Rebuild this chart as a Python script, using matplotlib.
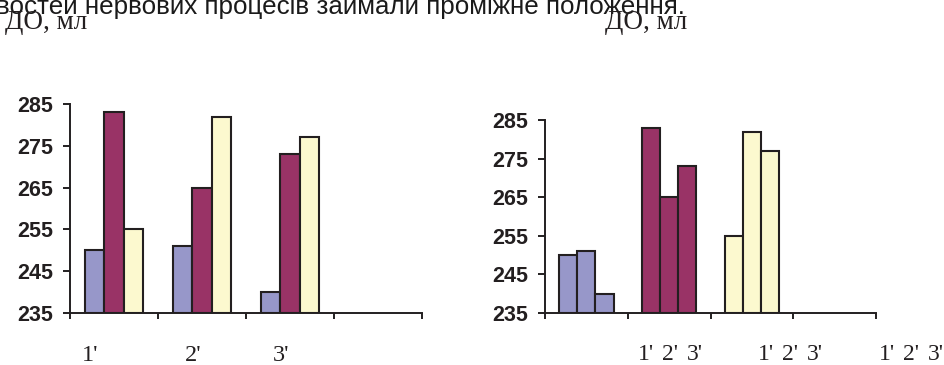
import numpy as np
import matplotlib.pyplot as plt

W, H = 944, 365

groups = ["1'", "2'", "3'"]
# значення ДО, мл для трьох серій (кольорів) у кожній групі 1', 2', 3'
blue_vals = [250, 251, 240]
purple_vals = [283, 265, 273]
yellow_vals = [255, 282, 277]

colors = ["#9797C9", "#993366", "#FCF9CF"]
edge = "#231F20"
y_ticks = [235, 245, 255, 265, 275, 285]
top_line = "востей нервових процесів займали проміжне положення."
y_label = "ДО, мл"

serif = ["Liberation Serif", "DejaVu Serif"]
sans = ["Liberation Sans", "DejaVu Sans"]


def px(x, y):
    return x / W, 1 - y / H


def style_axes(ax):
    ax.set_ylim(235, 285)
    ax.set_xlim(-0.5, 3.5)
    ax.set_yticks(y_ticks)
    ax.set_xticks(np.arange(-0.5, 4, 1))
    ax.set_xticklabels([])
    for s in ["top", "right"]:
        ax.spines[s].set_visible(False)
    for s in ["left", "bottom"]:
        ax.spines[s].set_linewidth(1.4)
        ax.spines[s].set_color(edge)
    ax.tick_params(axis="y", length=5, width=1.4, color=edge, pad=7)
    ax.tick_params(axis="x", length=4.5, width=1.4, color=edge, direction="out")
    for lab in ax.get_yticklabels():
        lab.set_fontfamily(sans)
        lab.set_fontweight("bold")
        lab.set_fontsize(15.5)
        lab.set_color(edge)
    ax.set_facecolor("none")


fig = plt.figure(figsize=(W / 100, H / 100), dpi=100)

# ліва діаграма: групи 1', 2', 3', у кожній три кольори
ax1 = fig.add_axes([70 / W, 1 - 313 / H, 352 / W, 209 / H])
bw = 0.223
x = np.arange(len(groups))
series = [blue_vals, purple_vals, yellow_vals]
for k, vals in enumerate(series):
    ax1.bar(x + (k - 1) * bw, np.array(vals) - 235, width=bw, bottom=235,
            color=colors[k], edgecolor=edge, linewidth=1.5)
style_axes(ax1)

# права діаграма: групи за кольором, у кожній 1', 2', 3'
ax2 = fig.add_axes([545 / W, 1 - 313 / H, 331 / W, 193 / H])
bw2 = 0.22
for k, vals in enumerate(series):
    for j, v in enumerate(vals):
        ax2.bar(k + (j - 1) * bw2, v - 235, width=bw2, bottom=235,
                color=colors[k], edgecolor=edge, linewidth=1.5)
style_axes(ax2)

# текст
fig.text(*px(685, 14), top_line, ha="right", va="baseline",
         fontsize=18.7, family=sans, color="#1a1a1a")
fig.text(*px(5, 29), y_label, ha="left", va="baseline",
         fontsize=19.5, family=serif, color="#231F20")
fig.text(*px(605, 29), y_label, ha="left", va="baseline",
         fontsize=19.5, family=serif, color="#231F20")

for g, xp in zip(groups, [82, 185, 273]):
    fig.text(*px(xp, 361), g, ha="left", va="baseline",
             fontsize=17.5, family=serif, color="#231F20")
for xp in [638, 758, 879]:
    for g, off in zip(groups, [0, 24, 49]):
        fig.text(*px(xp + off, 360), g, ha="left", va="baseline",
                 fontsize=17, family=serif, color="#231F20")

fig.savefig("out.png", dpi=100)
